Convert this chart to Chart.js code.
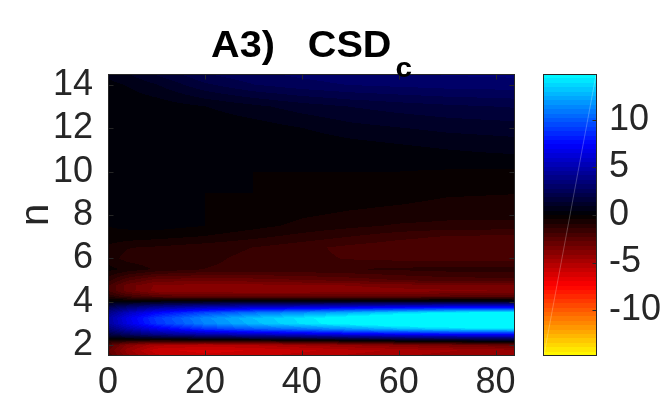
<!DOCTYPE html>
<html><head><meta charset="utf-8">
<script src="https://cdn.jsdelivr.net/npm/chart.js@4.4.1/dist/chart.umd.min.js"></script>
<style>html,body{margin:0;padding:0;background:#fff;} #wrap{width:663px;height:403px;position:relative;}</style>
</head><body><div id="wrap"><canvas id="c" width="663" height="403"></canvas></div>
<script>
// ---- data ----
const timeGrid = [0, 4, 10, 20, 30, 40, 50, 60, 70, 84];
const nGrid = [1.5, 1.75, 2, 2.25, 2.5, 2.75, 3, 3.25, 3.5, 3.75, 4, 4.25, 4.5, 4.75, 5, 5.5, 6, 6.5, 7, 7.5, 8, 9, 10, 11, 12, 13, 14, 14.5];
const csdValues = [
  [-2.4,-4.0,-5.4,-5.9,-5.7,-5.3,-5.0,-4.7,-4.4,-4.2],
  [-2.7,-4.4,-5.9,-6.2,-6.0,-5.7,-5.3,-5.0,-4.7,-4.4],
  [-2.3,-3.8,-5.0,-5.3,-5.1,-4.6,-4.2,-3.8,-3.4,-3.0],
  [-0.2,-0.3,-0.3,-0.1,0.2,0.4,0.8,1.2,1.5,1.8],
  [1.8,2.8,4.0,5.0,5.6,6.2,6.8,7.2,7.5,7.6],
  [3.4,5.0,6.8,8.8,10.0,10.8,11.8,12.8,13.6,14.0],
  [4.5,6.5,8.8,11.2,12.8,14.0,15.0,16.0,16.6,16.8],
  [4.6,6.7,9.0,11.4,13.0,14.1,15.2,16.2,16.8,17.0],
  [3.8,5.5,7.4,9.4,10.7,11.6,12.6,13.6,14.4,14.8],
  [2.2,3.2,4.3,5.3,5.9,6.3,6.7,7.0,7.3,7.4],
  [0.3,0.4,0.6,0.8,0.9,1.0,1.1,1.1,1.1,1.0],
  [-1.0,-1.8,-2.5,-2.7,-2.8,-2.8,-2.8,-2.7,-2.6,-2.5],
  [-1.8,-3.0,-3.9,-4.1,-4.1,-4.1,-4.0,-3.9,-3.8,-3.7],
  [-1.8,-3.0,-3.8,-3.9,-3.9,-3.8,-3.7,-3.5,-3.4,-3.3],
  [-1.2,-2.2,-3.0,-3.1,-3.0,-2.8,-2.6,-2.3,-2.1,-2.0],
  [-0.3,-0.6,-1.0,-1.4,-1.5,-1.5,-1.4,-1.3,-1.2,-1.2],
  [-0.7,-1.1,-1.2,-1.3,-1.5,-1.7,-1.9,-2.0,-2.1,-2.1],
  [-0.6,-0.9,-1.0,-1.2,-1.4,-1.7,-2.0,-2.2,-2.3,-2.3],
  [-0.1,-0.2,-0.3,-0.5,-0.8,-1.1,-1.4,-1.7,-1.9,-2.0],
  [0,0.1,0.2,0,-0.3,-0.6,-0.8,-1.0,-1.1,-1.1],
  [0,0,0,0,-0.1,-0.4,-0.55,-0.65,-0.75,-0.8],
  [0,0,0,0,0,-0.05,-0.15,-0.25,-0.4,-0.45],
  [0,0,0,0,0,0,0,0,-0.05,-0.1],
  [0,0,0,0,0,0,0.15,0.3,0.45,0.6],
  [0,0,0,0.05,0.2,0.45,0.75,0.9,1.05,1.15],
  [0,0.05,0.15,0.45,0.8,1.15,1.4,1.6,1.75,1.9],
  [0.3,0.5,0.9,1.75,2.3,2.6,2.8,2.9,3.0,3.05],
  [0.6,0.9,1.45,2.3,2.7,2.9,3.1,3.2,3.3,3.35]
];
const xTicks = [0, 20, 40, 60, 80];
const yTicks = [2, 4, 6, 8, 10, 12, 14];
const cbTicks = [-10, -5, 0, 5, 10];
const cLim = 14.84;
const titleMain = 'A3)   CSD';
const titleSub = 'c';
const yLabel = 'n';

// ---- helpers ----
const FONT = '"Liberation Sans", Arial, Helvetica, sans-serif';
const AX = '#262626';
const NLEV = 64;
const CB_W = 54;
function cmap(v) {
  let idx = Math.floor((v + cLim) / (2 * cLim) * NLEV);
  idx = Math.max(0, Math.min(NLEV - 1, idx));
  const vc = -cLim + (idx + 0.5) * (2 * cLim / NLEV);
  const t = vc / cLim;
  let r, g, b;
  if (t >= 0) {
    if (t < 0.5) { r = 0; g = 0; b = 2 * t; } else { r = 0; g = 2 * t - 1; b = 1; }
  } else {
    const s = -t;
    if (s < 0.5) { r = 2 * s; g = 0; b = 0; } else { r = 1; g = 2 * s - 1; b = 0; }
  }
  return [Math.round(r * 255), Math.round(g * 255), Math.round(b * 255)];
}
function locate(arr, v) {
  const n = arr.length;
  if (v <= arr[0]) return [0, 0];
  if (v >= arr[n - 1]) return [n - 2, 1];
  let i = 0;
  while (arr[i + 1] < v) i++;
  return [i, (v - arr[i]) / (arr[i + 1] - arr[i])];
}
function sample(x, n) {
  const [j, fx] = locate(timeGrid, x);
  const [i, fy] = locate(nGrid, n);
  const a = csdValues[i][j], b = csdValues[i][j + 1];
  const c = csdValues[i + 1][j], d = csdValues[i + 1][j + 1];
  return (a * (1 - fx) + b * fx) * (1 - fy) + (c * (1 - fx) + d * fx) * fy;
}

const heatmapPlugin = {
  id: 'heatmap',
  beforeDatasetsDraw(chart) {
    const {ctx, chartArea: ca, scales} = chart;
    const xs = scales.x, ys = scales.y;
    const W = Math.round(ca.right - ca.left), H = Math.round(ca.bottom - ca.top);
    const off = document.createElement('canvas');
    off.width = W; off.height = H;
    const octx = off.getContext('2d');
    const img = octx.createImageData(W, H);
    const xv = [], yv = [];
    for (let p = 0; p < W; p++) xv.push(xs.getValueForPixel(ca.left + p + 0.5));
    for (let q = 0; q < H; q++) yv.push(ys.getValueForPixel(ca.top + q + 0.5));
    for (let q = 0; q < H; q++) {
      for (let p = 0; p < W; p++) {
        const col = cmap(sample(xv[p], yv[q]));
        const k = (q * W + p) * 4;
        img.data[k] = col[0]; img.data[k + 1] = col[1]; img.data[k + 2] = col[2]; img.data[k + 3] = 255;
      }
    }
    octx.putImageData(img, 0, 0);
    ctx.drawImage(off, ca.left, ca.top);

    // colorbar, placed just left of its own axis
    const cb = scales.cb;
    const cbR = Math.round(cb.left), cbL = cbR - CB_W;
    const cTop = Math.round(cb.getPixelForValue(cLim)), cBot = Math.round(cb.getPixelForValue(-cLim));
    const cH = cBot - cTop;
    const off2 = document.createElement('canvas');
    off2.width = CB_W; off2.height = cH;
    const c2 = off2.getContext('2d');
    for (let q = 0; q < cH; q++) {
      const v = cb.getValueForPixel(cTop + q + 0.5);
      const col = cmap(v);
      c2.fillStyle = `rgb(${col[0]},${col[1]},${col[2]})`;
      c2.fillRect(0, q, CB_W, 1);
    }
    ctx.drawImage(off2, cbL, cTop);
    ctx.save();
    ctx.strokeStyle = 'rgba(255,255,255,0.3)';
    ctx.lineWidth = 0.8;
    ctx.beginPath(); ctx.moveTo(cbL + 1, cBot - 1); ctx.lineTo(cbR - 1, cTop + 1); ctx.stroke();
    ctx.restore();
  },
  afterDatasetsDraw(chart) {
    const {ctx, chartArea: ca, scales} = chart;
    const xs = scales.x, ys = scales.y, cb = scales.cb;
    ctx.save();
    ctx.strokeStyle = AX; ctx.lineWidth = 1;
    const L = Math.round(ca.left) + 0.5, R = Math.round(ca.right) - 0.5;
    const T = Math.round(ca.top) + 0.5, B = Math.round(ca.bottom) - 0.5;
    ctx.strokeRect(L, T, R - L, B - T);
    const tl = 5;
    ctx.beginPath();
    xTicks.forEach(v => {
      const px = Math.round(xs.getPixelForValue(v)) + 0.5;
      ctx.moveTo(px, B); ctx.lineTo(px, B - tl);
      ctx.moveTo(px, T); ctx.lineTo(px, T + tl);
    });
    yTicks.forEach(v => {
      const py = Math.round(ys.getPixelForValue(v)) + 0.5;
      ctx.moveTo(L, py); ctx.lineTo(L + tl, py);
      ctx.moveTo(R, py); ctx.lineTo(R - tl, py);
    });
    ctx.stroke();
    // colorbar frame and ticks
    const cbR = Math.round(cb.left) - 0.5, cbL = Math.round(cb.left) - CB_W + 0.5;
    const cT = Math.round(cb.getPixelForValue(cLim)) + 0.5, cB = Math.round(cb.getPixelForValue(-cLim)) - 0.5;
    ctx.strokeRect(cbL, cT, cbR - cbL, cB - cT);
    ctx.beginPath();
    cbTicks.forEach(v => {
      const py = Math.round(cb.getPixelForValue(v)) + 0.5;
      ctx.moveTo(cbR, py); ctx.lineTo(cbR - 4, py);
    });
    ctx.stroke();
    // title with subscript
    ctx.fillStyle = '#000';
    ctx.textBaseline = 'alphabetic';
    ctx.textAlign = 'left';
    const sx = 1.1;
    ctx.font = 'bold 36px ' + FONT;
    const w1 = ctx.measureText(titleMain).width * sx;
    ctx.font = 'bold 27px ' + FONT;
    const w2 = ctx.measureText(titleSub).width * sx;
    const cx = (ca.left + ca.right) / 2;
    const x0 = cx - (w1 + 4 + w2) / 2;
    ctx.save();
    ctx.translate(x0, 57); ctx.scale(sx, 1);
    ctx.font = 'bold 36px ' + FONT;
    ctx.fillText(titleMain, 0, 0);
    ctx.restore();
    ctx.save();
    ctx.translate(x0 + w1 + 4, 77); ctx.scale(sx, 1);
    ctx.font = 'bold 27px ' + FONT;
    ctx.fillText(titleSub, 0, 0);
    ctx.restore();
    ctx.restore();
  }
};

const tickFont = {family: FONT, size: 36};
new Chart(document.getElementById('c'), {
  type: 'scatter',
  data: {datasets: [{data: [], xAxisID: 'x', yAxisID: 'y'}]},
  options: {
    responsive: false, animation: false, devicePixelRatio: 1,
    layout: {padding: {top: 74, left: 0, right: 0, bottom: 0}},
    plugins: {legend: {display: false}, tooltip: {enabled: false}, title: {display: false}},
    scales: {
      x: {
        type: 'linear', position: 'bottom', min: 0, max: 84,
        grid: {display: false, drawTicks: false}, border: {display: false},
        afterBuildTicks: s => { s.ticks = xTicks.map(v => ({value: v})); },
        afterFit: s => { s.height = 47; },
        ticks: {font: tickFont, color: AX, padding: 5, maxRotation: 0, autoSkip: false}
      },
      y: {
        type: 'linear', position: 'left', min: 1.5, max: 14.5,
        grid: {display: false, drawTicks: false}, border: {display: false},
        afterBuildTicks: s => { s.ticks = yTicks.map(v => ({value: v})); },
        afterFit: s => { s.width = 108; },
        ticks: {font: tickFont, color: AX, padding: 15, autoSkip: false},
        title: {display: true, text: yLabel, font: {family: FONT, size: 40}, color: AX, padding: {top: 13, bottom: 0}}
      },
      gap: {
        type: 'linear', axis: 'y', position: 'right', weight: 0, min: 0, max: 1,
        grid: {display: false, drawTicks: false}, border: {display: false},
        ticks: {display: false},
        afterFit: s => { s.width = 82; }
      },
      cb: {
        type: 'linear', axis: 'y', position: 'right', weight: 1, min: -cLim, max: cLim,
        grid: {display: false, drawTicks: false}, border: {display: false},
        afterBuildTicks: s => { s.ticks = cbTicks.map(v => ({value: v})); },
        afterFit: s => { s.width = 66; },
        ticks: {font: tickFont, color: AX, padding: 12, autoSkip: false, callback: v => String(v)}
      }
    }
  },
  plugins: [heatmapPlugin]
});
</script></body></html>
